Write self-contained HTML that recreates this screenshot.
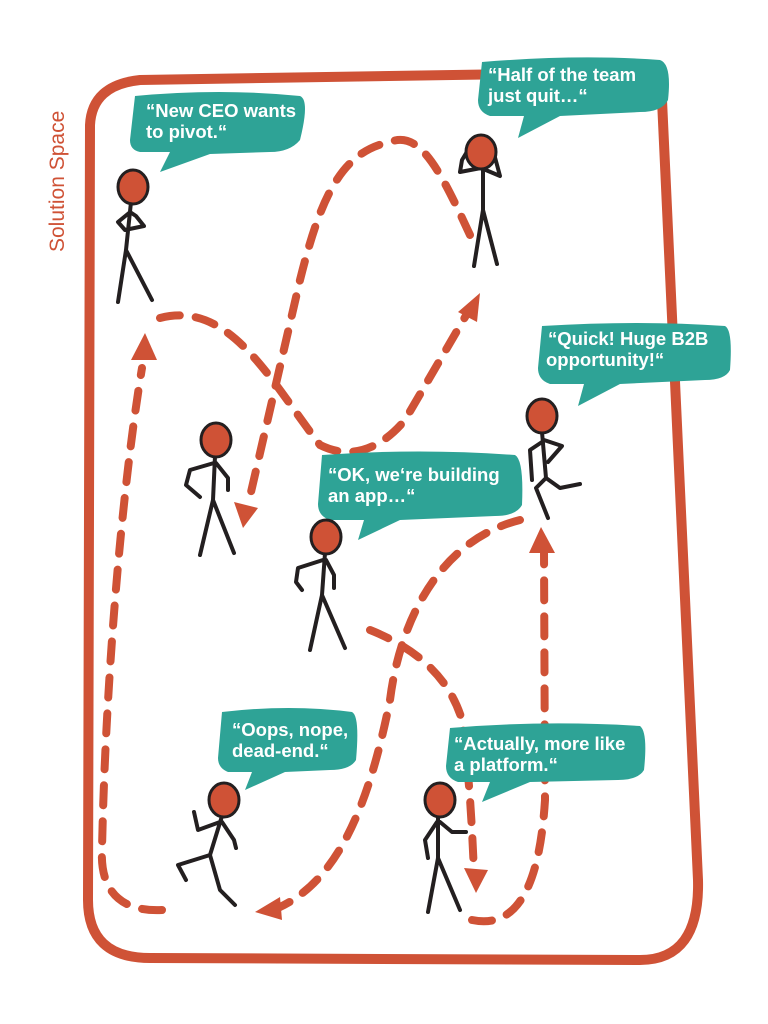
<!DOCTYPE html>
<html><head><meta charset="utf-8"><style>
html,body{margin:0;padding:0;background:#fff}
svg{display:block}
text{font-family:"Liberation Sans",sans-serif}
</style></head><body>
<svg width="768" height="1024" viewBox="0 0 768 1024" xmlns="http://www.w3.org/2000/svg">
<g fill="none" stroke="#CF5236" stroke-width="10" stroke-linecap="round">
<path d="M90,125 Q92,85 140,80 L640,72 Q660,72 662,100 L698,880 Q700,960 640,960 L150,958 Q88,958 88,900 Z"/>
</g>
<text transform="translate(64,252) rotate(-90)" font-size="21" fill="#CF5236">Solution Space</text>

<g fill="none" stroke="#CF5236" stroke-width="8" stroke-linecap="round" stroke-dasharray="20 16">
<path d="M162,910 C120,912 100,890 102,850 C105,700 120,500 142,368"/>
<path d="M160,318 C230,300 270,380 320,445 C350,460 380,450 405,420 L468,312"/>
<path d="M470,235 C440,170 420,130 390,142 C340,152 320,200 300,280 L248,505"/>
<path d="M370,630 C420,650 450,680 462,720 C470,780 472,830 474,872"/>
<path d="M472,920 C520,930 540,880 545,800 L544,550"/>
<path d="M520,520 C440,540 400,620 390,700 C370,800 340,880 278,908"/>
</g>
<g fill="#CF5236">
<polygon points="145,333 131,360 157,360"/>
<polygon points="480,293 458,312 477,322"/>
<polygon points="243,528 234,502 258,508"/>
<polygon points="476,893 464,868 488,870"/>
<polygon points="541,527 529,553 555,553"/>
<polygon points="255,912 280,897 282,920"/>
</g>

<g fill="#2EA396">
<path d="M135,96 Q220,88 300,96 Q310,100 300,140 Q290,152 270,152 L210,154 L160,172 L170,152 L140,152 Q130,150 130,140 Z"/>
<path d="M482,62 Q580,54 660,60 Q672,64 668,100 Q662,112 640,112 L560,116 L518,138 L524,116 L490,116 Q478,112 478,100 Z"/>
<path d="M542,326 Q640,320 725,326 Q733,330 730,370 Q725,380 705,380 L620,384 L578,406 L584,384 L550,384 Q538,380 538,368 Z"/>
<path d="M322,455 Q420,448 515,455 Q524,460 522,505 Q516,516 495,516 L400,520 L358,540 L364,520 L330,520 Q318,516 318,504 Z"/>
<path d="M222,712 Q290,704 352,712 Q360,716 356,760 Q350,770 330,770 L285,772 L245,790 L252,772 L228,772 Q218,768 218,758 Z"/>
<path d="M450,728 Q545,720 640,726 Q648,732 644,770 Q638,780 618,780 L530,782 L482,802 L490,782 L458,782 Q446,778 446,766 Z"/>
</g>
<g fill="#fff" font-weight="bold" font-size="18.5">
<text x="146" y="117">“New CEO wants</text><text x="146" y="138">to pivot.“</text>
<text x="488" y="81">“Half of the team</text><text x="488" y="102">just quit…“</text>
<text x="548" y="345">“Quick! Huge B2B</text><text x="546" y="366">opportunity!“</text>
<text x="328" y="481">“OK, we‘re building</text><text x="328" y="502">an app…“</text>
<text x="232" y="736">“Oops, nope,</text><text x="232" y="757">dead-end.“</text>
<text x="454" y="750">“Actually, more like</text><text x="454" y="771">a platform.“</text>
</g>

<g fill="none" stroke="#231F20" stroke-width="4" stroke-linecap="round" stroke-linejoin="round">
<path d="M131,202 L126,250 M126,250 L118,302 M126,250 L152,300 M129,213 L118,222 L125,230 L144,226 L136,216 L130,212"/>
<path d="M483,168 L483,210 M483,210 L474,266 M483,210 L497,264 M474,140 L462,160 L460,172 L481,168 L500,176 L493,150"/>
<path d="M215,456 L213,500 M213,500 L200,555 M213,500 L234,553 M214,463 L190,470 L186,485 L200,497 M216,463 L228,478 L228,490"/>
<path d="M542,432 L546,478 M542,442 L530,450 L532,480 M544,440 L562,446 L548,462 M546,478 L536,488 L548,518 M546,478 L560,488 L580,484"/>
<path d="M325,553 L322,595 M322,595 L310,650 M322,595 L345,648 M323,560 L298,568 L296,582 L302,590 M326,560 L334,575 L334,588"/>
<path d="M222,816 L210,855 M220,822 L198,830 L194,812 M222,822 L234,840 L236,848 M210,855 L178,865 L186,880 M210,855 L220,890 L235,905"/>
<path d="M438,816 L438,858 M438,858 L428,912 M438,858 L460,910 M437,822 L425,840 L428,858 M440,822 L452,832 L466,832"/>
</g>
<g fill="#CF5236" stroke="#231F20" stroke-width="3">
<ellipse cx="133" cy="187" rx="15" ry="17"/>
<ellipse cx="481" cy="152" rx="15" ry="17"/>
<ellipse cx="216" cy="440" rx="15" ry="17"/>
<ellipse cx="542" cy="416" rx="15" ry="17"/>
<ellipse cx="326" cy="537" rx="15" ry="17"/>
<ellipse cx="224" cy="800" rx="15" ry="17"/>
<ellipse cx="440" cy="800" rx="15" ry="17"/>
</g>
</svg>
</body></html>
